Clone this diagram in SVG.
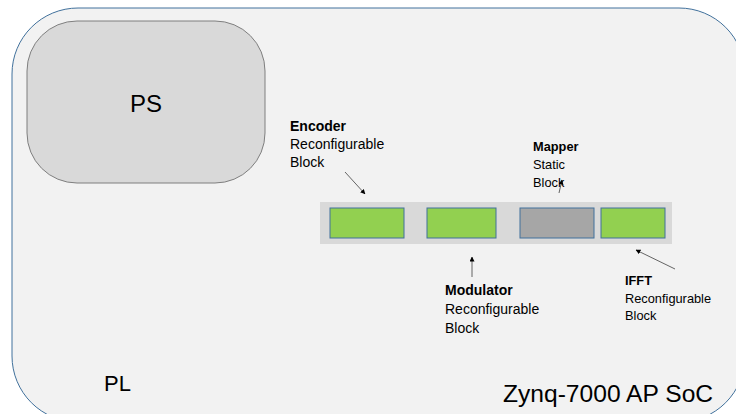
<svg xmlns="http://www.w3.org/2000/svg" width="736" height="414" viewBox="0 0 736 414">
<defs>
<style>
.t{font-family:"Liberation Sans",Arial,sans-serif;fill:#000}
.lbl{font-size:14px}
.sm{font-size:12.8px}
.b{font-weight:bold}
.green{fill:#92d050;stroke:#41719c;stroke-width:1}
.grey{fill:#a6a6a6;stroke:#41719c;stroke-width:1}
.conn line{stroke:#404040;stroke-width:0.8;marker-end:url(#ah)}
</style>
<marker id="ah" viewBox="0 0 10 10" refX="9" refY="5" markerWidth="5" markerHeight="5" orient="auto" markerUnits="userSpaceOnUse">
<path d="M0,0 L10,5 L0,10 z" fill="#000"/>
</marker>
</defs>
<rect width="736" height="414" fill="#ffffff"/>
<g id="soc">
<rect x="12" y="8" width="733" height="414" rx="66" ry="66" fill="#f2f2f2" stroke="#41719c" stroke-width="1"/>
<text class="t" x="104" y="391" font-size="22">PL</text>
<text class="t" x="503" y="402" font-size="24.6">Zynq-7000 AP SoC</text>
</g>
<g id="ps">
<rect x="27" y="21" width="238" height="162" rx="50" ry="50" fill="#d9d9d9" stroke="#7f7f7f" stroke-width="1"/>
<text class="t" x="146" y="112" font-size="24" text-anchor="middle">PS</text>
</g>
<g id="strip">
<rect x="320" y="202" width="352" height="42" fill="#d9d9d9"/>
</g>
<g id="encoder">
<rect class="green" x="330" y="208" width="74" height="30"/>
<text class="t lbl" x="290"><tspan class="b" x="290" y="131">Encoder</tspan><tspan x="290" y="149">Reconfigurable</tspan><tspan x="290" y="167">Block</tspan></text>
</g>
<g id="modulator">
<rect class="green" x="427" y="208" width="69" height="30"/>
<text class="t lbl" x="445"><tspan class="b" x="445" y="295">Modulator</tspan><tspan x="445" y="314">Reconfigurable</tspan><tspan x="445" y="333">Block</tspan></text>
</g>
<g id="mapper">
<rect class="grey" x="520" y="208" width="74" height="30"/>
<text class="t sm" x="533"><tspan class="b" x="533" y="151">Mapper</tspan><tspan x="533" y="169">Static</tspan><tspan x="533" y="187">Block</tspan></text>
</g>
<g id="ifft">
<rect class="green" x="601" y="208" width="64" height="30"/>
<text class="t sm" x="625"><tspan class="b" x="625" y="285">IFFT</tspan><tspan x="625" y="303">Reconfigurable</tspan><tspan x="625" y="320">Block</tspan></text>
</g>
<g class="conn" id="connectors">
<line x1="345" y1="172" x2="365" y2="194"/>
<line x1="559" y1="193" x2="562" y2="180"/>
<line x1="472" y1="277" x2="472" y2="257"/>
<line x1="675" y1="269" x2="636" y2="250"/>
</g>
</svg>
